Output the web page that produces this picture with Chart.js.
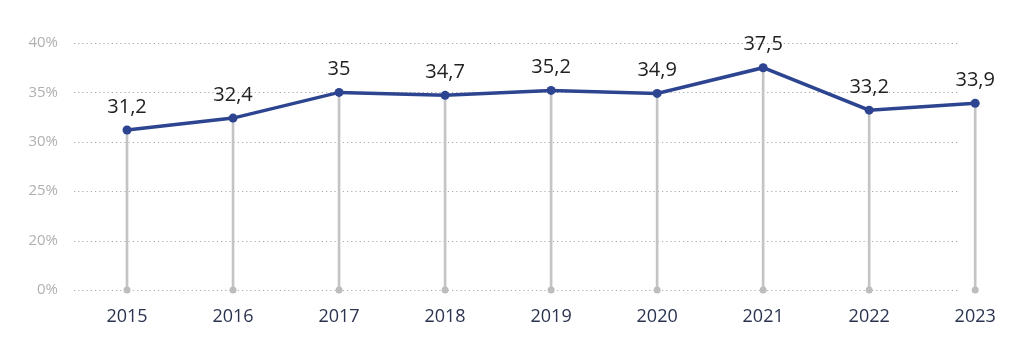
<!DOCTYPE html>
<html>
<head>
<meta charset="utf-8">
<script src="https://cdn.jsdelivr.net/npm/chart.js@4.4.1/dist/chart.umd.min.js"></script>
<style>
  html, body { margin: 0; padding: 0; background: #fff; }
  #wrap { width: 1026px; height: 346px; }
</style>
</head>
<body>
<div id="wrap"><canvas id="lineChart"></canvas></div>
<script>
// years on the x axis, share values (percent)
var years = ['2015', '2016', '2017', '2018', '2019', '2020', '2021', '2022', '2023'];
var values = [31.2, 32.4, 35, 34.7, 35.2, 34.9, 37.5, 33.2, 33.9];

// y ticks: the axis is broken, the lowest gridline is labelled 0%
var yTicks = [15, 20, 25, 30, 35, 40];
var axisFloor = 15;
var axisTop = 40;

var navy = '#2d4590';
var grey = '#c4c4c4';

var linePoints = values.map(function (v, i) { return { x: i, y: v }; });
var floorPoints = values.map(function (v, i) { return { x: i, y: axisFloor }; });

// dotted gridlines stop a bit before the last year
var gridEnd = 7.83;
var dottedGrid = {
    id: 'dottedGrid',
    beforeDatasetsDraw: function (chart) {
        var xs = chart.scales.x, ys = chart.scales.y;
        var ctx = chart.ctx;
        var x0 = chart.chartArea.left, x1 = xs.getPixelForValue(gridEnd);
        ctx.save();
        ctx.strokeStyle = '#aaaaaa';
        ctx.lineWidth = 1.2;
        ctx.setLineDash([1.2, 3]);
        yTicks.forEach(function (t) {
            var y = Math.round(ys.getPixelForValue(t)) + 0.5;
            ctx.beginPath();
            ctx.moveTo(x0, y);
            ctx.lineTo(x1, y);
            ctx.stroke();
        });
        ctx.restore();
    }
};

// value labels above each point
var valueLabels = {
    id: 'valueLabels',
    afterDatasetsDraw: function (chart) {
        var meta = chart.getDatasetMeta(0);
        var ctx = chart.ctx;
        ctx.save();
        ctx.font = '500 20px "Open Sans"';
        ctx.fillStyle = '#222222';
        ctx.textAlign = 'center';
        ctx.textBaseline = 'bottom';
        meta.data.forEach(function (pt, i) {
            ctx.fillText(String(values[i]).replace('.', ','), pt.x, pt.y - 13);
        });
        ctx.restore();
    }
};

var ctx = document.getElementById('lineChart');
var myChart = new Chart(ctx, {
    data: {
        datasets: [{
            type: 'line',
            data: linePoints,
            borderColor: navy,
            backgroundColor: navy,
            borderWidth: 3.5,
            pointRadius: 4.5,
            pointBackgroundColor: navy,
            pointBorderWidth: 0,
            tension: 0,
            order: 1
        }, {
            type: 'bar',
            data: linePoints,
            backgroundColor: grey,
            barThickness: 2,
            base: axisFloor,
            order: 3
        }, {
            type: 'scatter',
            data: floorPoints,
            backgroundColor: '#bdbdbd',
            pointRadius: 3.5,
            pointBorderWidth: 0,
            clip: false,
            order: 2
        }]
    },
    options: {
        responsive: true,
        maintainAspectRatio: false,
        animation: false,
        layout: { padding: { top: 43, right: 19, left: 0, bottom: 0 } },
        plugins: { legend: { display: false }, tooltip: { enabled: false } },
        scales: {
            x: {
                type: 'linear',
                offset: false,
                min: -0.5,
                max: 8.3,
                grid: { display: false },
                border: { display: false },
                afterBuildTicks: function (scale) {
                    scale.ticks = years.map(function (y, i) { return { value: i }; });
                },
                afterFit: function (scale) { scale.height = 56; },
                ticks: {
                    autoSkip: false,
                    maxRotation: 0,
                    padding: 8,
                    color: '#2a3350',
                    font: { family: '"Open Sans"', size: 18, weight: '500' },
                    callback: function (v) { return years[v]; }
                }
            },
            y: {
                min: axisFloor,
                max: axisTop,
                afterBuildTicks: function (scale) {
                    scale.ticks = yTicks.map(function (t) { return { value: t }; });
                },
                afterFit: function (scale) { scale.width = 74; },
                grid: { display: false },
                border: { display: false },
                ticks: {
                    padding: 8,
                    color: '#b0b0b0',
                    font: { family: '"Open Sans"', size: 15 },
                    callback: function (v) { return (v === axisFloor ? 0 : v) + '%'; }
                }
            }
        }
    },
    plugins: [dottedGrid, valueLabels]
});
</script>
</body>
</html>
